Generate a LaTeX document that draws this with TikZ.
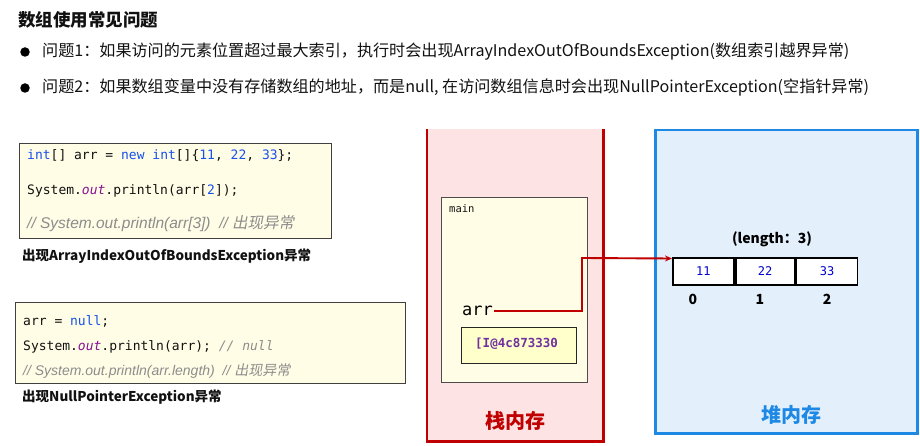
\documentclass[tikz,border=0pt]{standalone}
\usepackage{fontspec}
\setmainfont{Noto Sans CJK SC}
\newfontfamily\codefont{DejaVu Sans Mono}
\newfontfamily\cmtfont{Liberation Sans}
\newfontfamily\cjkslant[FakeSlant=0.2]{Noto Sans CJK SC}
\usetikzlibrary{arrows.meta}
\definecolor{kwblue}{HTML}{1750EB}
\definecolor{outpurple}{HTML}{871094}
\definecolor{cmtgray}{HTML}{8C8C8C}
\definecolor{codefill}{HTML}{FFFDE6}
\definecolor{addrfill}{HTML}{FFFFCC}
\definecolor{addrpurple}{HTML}{7030A0}
\definecolor{stackred}{HTML}{C00000}
\definecolor{stackfill}{HTML}{FDE3E3}
\definecolor{heapblue}{HTML}{1E88E5}
\definecolor{heapfill}{HTML}{E3F0FB}
\definecolor{txtdark}{HTML}{111111}
\newcommand\kwc[1]{\textcolor{kwblue}{#1}}
\newcommand\outc[1]{\textcolor{outpurple}{\itshape #1}}
\begin{document}
\begin{tikzpicture}[x=1pt,y=-1pt,
  txt/.style={inner sep=0pt,anchor=west,text=txtdark},
  codebox/.style={draw=black!75,fill=codefill,line width=1.1pt,inner sep=0pt},
  codeline/.style={inner sep=0pt,anchor=west,text=txtdark,font=\codefont\fontsize{13}{15}\selectfont},
  cmtline/.style={inner sep=0pt,anchor=west,text=cmtgray},
  cell/.style={draw=black,line width=1.8pt,fill=white,minimum width=60pt,minimum height=27pt,inner sep=0pt,font=\codefont\fontsize{12}{14}\selectfont,text=blue!80!black},
  idx/.style={inner sep=0pt,font=\bfseries\fontsize{14}{16}\selectfont},
  memlabel/.style={inner sep=0pt,font=\bfseries\fontsize{20}{22}\selectfont}]
\useasboundingbox (0,0) rectangle (920,446);
% title and bullets
\node[txt,font=\bfseries\fontsize{17.5}{20}\selectfont] (title) at (18,20) {数组使用常见问题};
\node[circle,fill=black,inner sep=0pt,minimum size=9.5pt] (b1) at (25,52) {};
\node[circle,fill=black,inner sep=0pt,minimum size=9.5pt] (b2) at (25,88) {};
\node[txt,font=\fontsize{16.1}{18}\selectfont] (q1) at (42,52) {问题1：如果访问的元素位置超过最大索引，执行时会出现ArrayIndexOutOfBoundsException(数组索引越界异常)};
\node[txt,font=\fontsize{16.1}{18}\selectfont] (q2) at (42,88) {问题2：如果数组变量中没有存储数组的地址，而是null, 在访问数组信息时会出现NullPointerException(空指针异常)};
% code box 1
\node[codebox,anchor=north west,minimum width=312pt,minimum height=95pt] (cb1) at (19,143) {};
\node[codeline] (c1l1) at (27,156) {\kwc{int}[] arr = \kwc{new} \kwc{int}[]\{\kwc{11}, \kwc{22}, \kwc{33}\};};
\node[codeline] (c1l2) at (27,191) {System.\outc{out}.println(arr[\kwc{2}]);};
\node[cmtline,font=\fontsize{15.5}{17}\selectfont] (c1l3) at (27,224) {\cmtfont\itshape // System.out.println(arr[3])\ \ // {\cjkslant 出现异常}};
\node[txt,font=\bfseries\fontsize{13.5}{16}\selectfont] (lab1) at (22,256) {出现ArrayIndexOutOfBoundsException异常};
% code box 2
\node[codebox,anchor=north west,minimum width=390pt,minimum height=81pt] (cb2) at (15,302) {};
\node[codeline] (c2l1) at (23,321) {arr = \kwc{null};};
\node[codeline] (c2l2) at (23,347) {System.\outc{out}.println(arr); \textcolor{cmtgray}{\itshape // null}};
\node[cmtline,font=\fontsize{14}{16}\selectfont] (c2l3) at (23,371) {\cmtfont\itshape // System.out.println(arr.length)\ \ // {\cjkslant 出现异常}};
\node[txt,font=\bfseries\fontsize{13.5}{16}\selectfont] (lab2) at (22,397) {出现NullPointerException异常};
% stack memory
\node[fill=stackfill,anchor=north west,minimum width=176pt,minimum height=312pt,inner sep=0pt] (stack) at (427,129) {};
\draw[stackred,line width=2.5pt] (stack.north west) -- (stack.south west) -- (stack.south east) -- (stack.north east);
\node[memlabel,text=stackred] (stacklab) at (515,421) {栈内存};
\node[codebox,draw=black!70,line width=0.8pt,anchor=north west,minimum width=146pt,minimum height=185pt] (mainbox) at (441,197) {};
\node[txt,font=\codefont\fontsize{10.5}{12}\selectfont] (mainlab) at (449,209) {main};
\node[txt,font=\codefont\fontsize{17}{19}\selectfont,text=black] (arr) at (462,311) {arr};
\node[draw=black!85,line width=0.9pt,fill=addrfill,anchor=north west,minimum width=115pt,minimum height=36pt,inner sep=0pt] (addrbox) at (461,327) {};
\node[txt,font=\codefont\bfseries\fontsize{12.5}{14}\selectfont,text=addrpurple] (addr) at (475,344) {[I@4c873330};
% heap memory
\node[draw=heapblue,fill=heapfill,line width=2.5pt,anchor=north west,minimum width=262pt,minimum height=303pt,inner sep=0pt] (heap) at (654,129) {};
\node[memlabel,text=heapblue] (heaplab) at (791,415) {堆内存};
\node[idx] (len) at (772,239) {(length：3)};
\node[cell,anchor=north west,minimum width=61pt] (e0) at (672,257) {11};
\node[cell,anchor=north west,minimum width=59pt] (e1) at (e0.north east) {22};
\node[cell,anchor=north west,minimum width=61pt] (e2) at (e1.north east) {33};
\node[idx] (i0) at (693,299) {0};
\node[idx] (i1) at (760,299) {1};
\node[idx] (i2) at (827,299) {2};
% reference arrow
\coordinate (bend) at (582,258);
\draw[stackred,line width=1.9pt,-{Stealth[length=7pt,width=6pt]}] ([xshift=1pt]arr.east) -- (arr.east -| bend) -- (bend) -- ([yshift=-1.5pt]e0.north west);
\end{tikzpicture}
\end{document}
